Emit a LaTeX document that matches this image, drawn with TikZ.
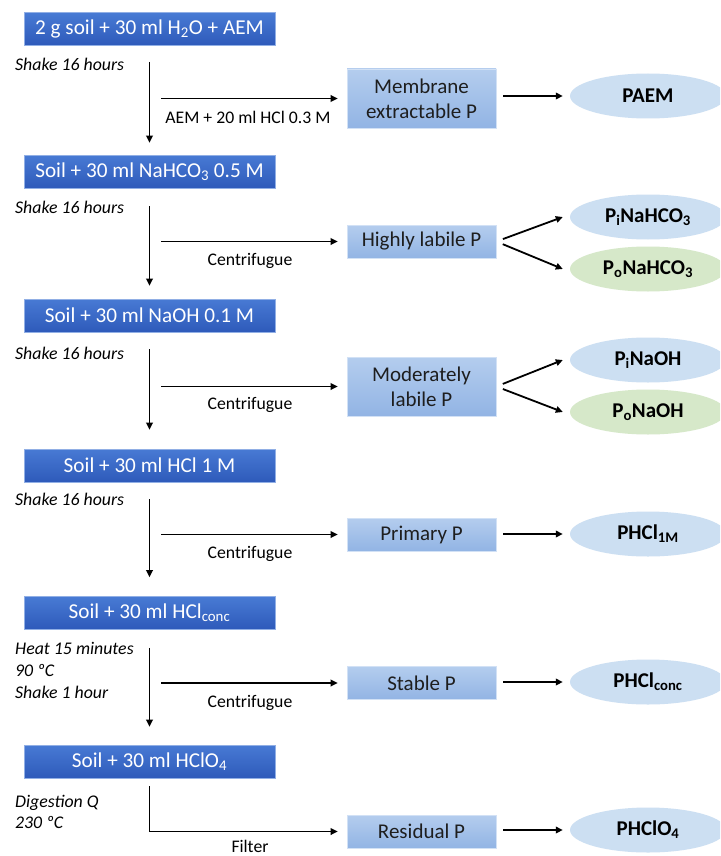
\documentclass[tikz,border=0pt]{standalone}
\usepackage{fontspec}
\setmainfont{Carlito}
\usetikzlibrary{arrows.meta,shapes.geometric}
\definecolor{dkA}{RGB}{72,122,212}
\definecolor{dkB}{RGB}{46,90,186}
\definecolor{ltA}{RGB}{180,205,238}
\definecolor{ltB}{RGB}{146,180,228}
\definecolor{ellB}{RGB}{204,223,242}
\definecolor{ellG}{RGB}{214,232,201}
\definecolor{txt}{RGB}{30,30,30}
\begin{document}
\begin{tikzpicture}[x=1pt,y=-1pt,
 stepbox/.style={rectangle, top color=dkA, bottom color=dkB, draw=dkA!60!white, line width=0.6pt, minimum width=251pt, minimum height=33pt, inner sep=0pt, text=white, font=\fontsize{21.2}{23}\selectfont},
 poolbox/.style={rectangle, top color=ltA, bottom color=ltB, draw=ltA!60!white, line width=0.6pt, minimum width=149pt, minimum height=33pt, inner sep=0pt, text=txt, font=\fontsize{21}{25}\selectfont, align=center},
 frac/.style={ellipse, fill=ellB, minimum width=156pt, minimum height=45pt, inner sep=0pt, font=\bfseries\fontsize{21}{23}\selectfont, text=black},
 fracg/.style={frac, fill=ellG},
 cond/.style={anchor=west, inner sep=0pt, align=left, font=\itshape\fontsize{17.8}{22}\selectfont},
 lab/.style={inner sep=0pt, font=\fontsize{17.7}{20}\selectfont},
 flow/.style={line width=1.8pt, -{Triangle[length=7pt,width=6.5pt]}},
]
\useasboundingbox (0,0) rectangle (720,856);
\clip (0,0) rectangle (720,856);
\fill[white] (0,0) rectangle (720,856);

% left step boxes
\node[stepbox] (b1) at (149.5,29) {2 g soil + 30 ml H\textsubscript{2}O + AEM};
\node[stepbox] (b2) at (149.5,171.5) {Soil + 30 ml NaHCO\textsubscript{3} 0.5 M};
\node[stepbox] (b3) at (149.5,315.5) {Soil + 30 ml NaOH 0.1 M};
\node[stepbox] (b4) at (149.5,465.5) {Soil + 30 ml HCl 1 M};
\node[stepbox] (b5) at (149.5,613) {Soil + 30 ml HCl\textsubscript{conc}};
\node[stepbox] (b6) at (149.5,761.5) {Soil + 30 ml HClO\textsubscript{4}};

% conditions
\node[cond] (c1) at (15,64) {Shake 16 hours};
\node[cond] (c2) at (15,207) {Shake 16 hours};
\node[cond] (c3) at (15,353) {Shake 16 hours};
\node[cond] (c4) at (15,499) {Shake 16 hours};
\node[cond] (c5) at (15,670) {Heat 15 minutes\\90 ºC\\Shake 1 hour};
\node[cond, font=\itshape\fontsize{17.8}{21}\selectfont] (c6) at (15,811.5) {Digestion Q\\230 ºC};

% pool boxes
\node[poolbox, minimum height=59pt] (p1) at (421.5,98.5) {Membrane\\extractable P};
\node[poolbox] (p2) at (421.5,241.5) {Highly labile P};
\node[poolbox, minimum height=59pt] (p3) at (421.5,386.5) {Moderately\\labile P};
\node[poolbox] (p4) at (421.5,534.5) {Primary P};
\node[poolbox] (p5) at (421.5,683) {Stable P};
\node[poolbox] (p6) at (421.5,831.5) {Residual P};

% fractions
\node[frac] (e1) at (648,96) {PAEM};
\node[frac] (e2a) at (648,217) {P\textsubscript{i}NaHCO\textsubscript{3}};
\node[fracg] (e2b) at (648,269) {P\textsubscript{o}NaHCO\textsubscript{3}};
\node[frac] (e3a) at (648,360) {P\textsubscript{i}NaOH};
\node[fracg] (e3b) at (648,412) {P\textsubscript{o}NaOH};
\node[frac] (e4) at (648,534) {PHCl\textsubscript{1M}};
\node[frac] (e5) at (648,682) {PHCl\textsubscript{conc}};
\node[frac] (e6) at (648,830) {PHClO\textsubscript{4}};

% vertical flow
\draw[flow, shorten <=16pt, shorten >=12pt] (b1) -- (b2);
\draw[flow, shorten <=18pt, shorten >=13pt] (b2) -- (b3);
\draw[flow, shorten <=17pt, shorten >=19pt] (b3) -- (b4);
\draw[flow, shorten <=17pt, shorten >=19pt] (b4) -- (b5);
\draw[flow, shorten <=18pt, shorten >=18pt] (b5) -- (b6);
\draw[flow, shorten <=8pt, shorten >=9pt] (b6.south) |- (p6.west);

% horizontal extraction arrows
\coordinate (s1) at (161,98.5);
\coordinate (s2) at (161,241.5);
\coordinate (s3) at (161,386.5);
\coordinate (s4) at (161,534.5);
\coordinate (s5) at (161,683);
\draw[flow, shorten >=9pt] (s1) -- (p1.west);
\draw[flow, shorten >=9pt] (s2) -- (p2.west);
\draw[flow, shorten >=9pt] (s3) -- (p3.west);
\draw[flow, shorten >=9pt] (s4) -- (p4.west);
\draw[flow, shorten >=9pt] (s5) -- (p5.west);

\node[lab] (l1) at (248,117) {AEM + 20 ml HCl 0.3 M};
\node[lab] (l2) at (250,261) {Centrifugue};
\node[lab] (l3) at (250,405) {Centrifugue};
\node[lab] (l4) at (250,554) {Centrifugue};
\node[lab] (l5) at (250,703) {Centrifugue};
\node[lab] (l6) at (250,846) {Filter};

% pool -> fraction arrows
\draw[flow, shorten <=7pt, shorten >=7pt] (p1.east |- e1.west) -- (e1.west);
\draw[flow, shorten <=7pt] (p2.east) -- ([xshift=-7pt]e2a.west);
\draw[flow, shorten <=7pt] (p2.east) -- ([xshift=-7pt]e2b.west);
\draw[flow, shorten <=7pt] (p3.east) -- ([xshift=-7pt]e3a.west);
\draw[flow, shorten <=7pt] (p3.east) -- ([xshift=-7pt]e3b.west);
\draw[flow, shorten <=7pt, shorten >=7pt] (p4.east |- e4.west) -- (e4.west);
\draw[flow, shorten <=7pt, shorten >=7pt] (p5.east |- e5.west) -- (e5.west);
\draw[flow, shorten <=7pt, shorten >=7pt] (p6.east |- e6.west) -- (e6.west);
\end{tikzpicture}
\end{document}
